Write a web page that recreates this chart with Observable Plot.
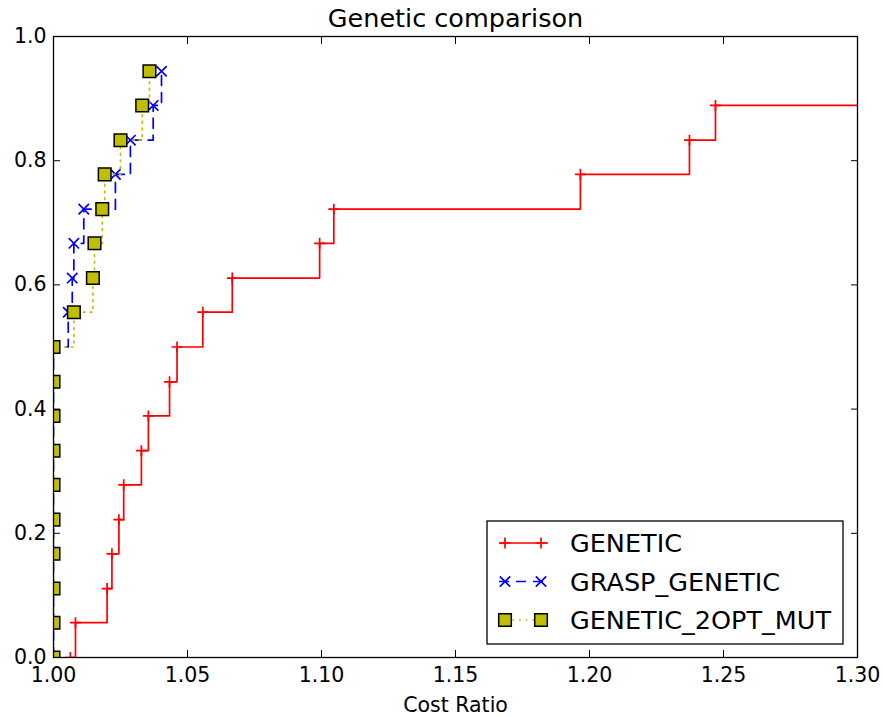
<!DOCTYPE html>
<html>
<head>
<meta charset="utf-8">
<script src="https://cdn.jsdelivr.net/npm/d3@7"></script>
<script src="https://cdn.jsdelivr.net/npm/@observablehq/plot@0.6"></script>
<style>
  body { margin: 0; background: #fff; }
  svg { display: block; }
</style>
</head>
<body>
<div id="chart"></div>
<script>
// Cumulative share of instances (one step per instance, 18 instances)
const shareLevels = [0, 0.056, 0.111, 0.167, 0.222, 0.278, 0.333, 0.389, 0.444,
                     0.5, 0.556, 0.611, 0.667, 0.722, 0.778, 0.833, 0.889, 0.944];

// Sorted cost ratios per algorithm
const geneticRatio = [1.0063, 1.0082, 1.0200, 1.0218, 1.0244, 1.0262, 1.0328, 1.0354, 1.0433,
                      1.0461, 1.0557, 1.0667, 1.0993, 1.1046, 1.1966, 1.2373, 1.2470, 1.3400];
const graspGeneticRatio = [1.0, 1.0, 1.0, 1.0, 1.0, 1.0, 1.0, 1.0, 1.0,
                           1.0, 1.0055, 1.0070, 1.0076, 1.0113, 1.0231, 1.0287, 1.0372, 1.0403];
const genetic2optRatio = [1.0, 1.0, 1.0, 1.0, 1.0, 1.0, 1.0, 1.0, 1.0,
                          1.0, 1.0076, 1.0147, 1.0153, 1.0182, 1.0191, 1.0250, 1.0331, 1.0358];

const seriesNames = ["GENETIC", "GRASP_GENETIC", "GENETIC_2OPT_MUT"];
const xTicks = [1.00, 1.05, 1.10, 1.15, 1.20, 1.25, 1.30];
const yTicks = [0.0, 0.2, 0.4, 0.6, 0.8, 1.0];

// Marker shapes drawn as strokes / filled squares
const plusSymbol = {
  draw(ctx, size) {
    const r = Math.sqrt(size / Math.PI);
    ctx.moveTo(-r, 0); ctx.lineTo(r, 0);
    ctx.moveTo(0, -r); ctx.lineTo(0, r);
  }
};
const crossSymbol = {
  draw(ctx, size) {
    const r = Math.sqrt(size / Math.PI);
    ctx.moveTo(-r, -r); ctx.lineTo(r, r);
    ctx.moveTo(-r, r); ctx.lineTo(r, -r);
  }
};
const squareSymbol = {
  draw(ctx, size) {
    const r = Math.sqrt(size / Math.PI);
    ctx.moveTo(-r, -r); ctx.lineTo(r, -r); ctx.lineTo(r, r); ctx.lineTo(-r, r); ctx.closePath();
  }
};

const series = [
  {name: seriesNames[0], ratios: geneticRatio, color: "#ff0000", dash: null,
   symbol: plusSymbol, r: 5.5, fill: "none", markStroke: "#ff0000"},
  {name: seriesNames[1], ratios: graspGeneticRatio, color: "#0000ff", dash: "10,7",
   symbol: crossSymbol, r: 5.2, fill: "none", markStroke: "#0000ff"},
  {name: seriesNames[2], ratios: genetic2optRatio, color: "#bfbf00", dash: "1.7,5",
   symbol: squareSymbol, r: 6.3, fill: "#bfbf00", markStroke: "#000000"}
];

const rows = series.map(s => s.ratios.map((ratio, i) => ({series: s.name, ratio, share: shareLevels[i]})));

const seriesMarks = series.flatMap((s, k) => [
  Plot.line(rows[k], {x: "ratio", y: "share", curve: "step-after", stroke: s.color,
    strokeWidth: 1.7, strokeDasharray: s.dash, clip: true}),
  Plot.dot(rows[k], {x: "ratio", y: "share", symbol: s.symbol, r: s.r, fill: s.fill,
    stroke: s.markStroke, strokeWidth: s.fill === "none" ? 1.7 : 1.5, clip: true})
]);

const font = "DejaVu Sans";

const chart = Plot.plot({
  width: 883,
  height: 717,
  marginLeft: 53,
  marginRight: 26,
  marginTop: 36,
  marginBottom: 60,
  style: {fontFamily: font, fontSize: "20.5px", background: "#fff", color: "#000"},
  x: {domain: [1.0, 1.3], label: null},
  y: {domain: [0, 1], label: null},
  marks: [
    ...seriesMarks,
    Plot.axisX(xTicks, {anchor: "bottom", tickSize: -7, tickPadding: 17, label: null,
      tickFormat: d => d.toFixed(2), fontSize: 20.5, strokeWidth: 1}),
    Plot.axisX(xTicks, {anchor: "top", tickSize: -7, label: null, tickFormat: () => "", strokeWidth: 1}),
    Plot.axisY(yTicks, {anchor: "left", tickSize: -7, tickPadding: 14, label: null,
      tickFormat: d => d.toFixed(1), fontSize: 20.5, strokeWidth: 1}),
    Plot.axisY(yTicks, {anchor: "right", tickSize: -7, label: null, tickFormat: () => "", strokeWidth: 1}),
    Plot.frame({stroke: "#000", strokeWidth: 1.3}),
    Plot.text(["Genetic comparison"], {frameAnchor: "top", lineAnchor: "middle", dy: -18,
      fontSize: 25.5, fill: "#000"}),
    Plot.text(["Cost Ratio"], {frameAnchor: "bottom", lineAnchor: "middle", dy: 48,
      fontSize: 20.5, fill: "#000"})
  ]
});

// Legend box in the lower right of the axes
const svg = d3.select(chart);
const legend = svg.append("g").attr("font-family", font).attr("text-anchor", "start");
const box = {x: 487, y: 521, w: 356, h: 123};
legend.append("rect")
  .attr("x", box.x).attr("y", box.y).attr("width", box.w).attr("height", box.h)
  .attr("fill", "#fff").attr("stroke", "#000").attr("stroke-width", 1.3);

const rowY = [543, 581.5, 620];
series.forEach((s, k) => {
  const y = rowY[k];
  legend.append("line")
    .attr("x1", 499).attr("x2", 548).attr("y1", y).attr("y2", y)
    .attr("stroke", s.color).attr("stroke-width", 1.7)
    .attr("stroke-dasharray", s.dash);
  [505, 541].forEach(mx => {
    const p = d3.path();
    s.symbol.draw(p, Math.PI * s.r * s.r);
    legend.append("path")
      .attr("transform", `translate(${mx},${y})`)
      .attr("d", p.toString())
      .attr("fill", s.fill)
      .attr("stroke", s.markStroke)
      .attr("stroke-width", s.fill === "none" ? 1.7 : 1.5);
  });
  legend.append("text")
    .attr("x", 570).attr("y", y + 9.3)
    .attr("text-anchor", "start")
    .attr("font-size", 25.5).attr("fill", "#000")
    .text(s.name);
});

document.getElementById("chart").appendChild(chart);
</script>
</body>
</html>
